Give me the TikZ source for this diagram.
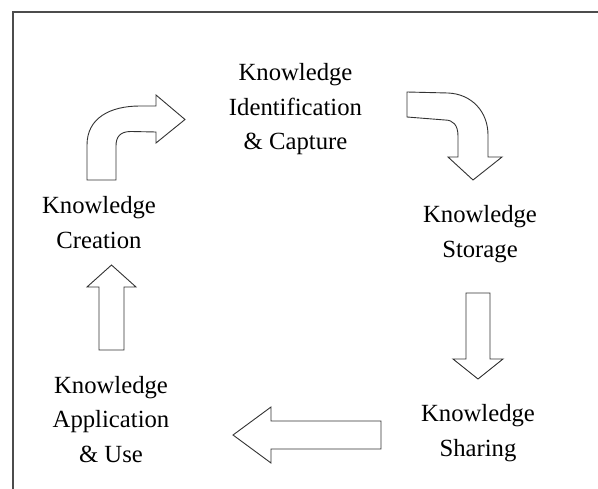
\documentclass[tikz,border=0pt]{standalone}
\usepackage{fontspec}
\setmainfont{Liberation Serif}
\begin{document}
\begin{tikzpicture}[x=1bp,y=-1bp,
  framestyle/.style={draw=black!70,line width=1.1bp},
  blockarrow/.style={draw=black!80,line width=0.9bp,fill=white,line join=miter},
  label/.style={anchor=base,align=center,inner sep=0pt,font=\fontsize{24.7bp}{34.5bp}\selectfont}]
\useasboundingbox (0,0) rectangle (598,489);
\draw[framestyle] (13,489) -- (13,12) -- (598,12);

\node[label] (capture) at (295.5,150) {Knowledge\\Identification\\\& Capture};
\node[label] (storage) at (480,257) {Knowledge\\Storage};
\node[label] (sharing) at (478,456) {Knowledge\\Sharing};
\node[label] (use) at (111,462) {Knowledge\\Application\\\& Use};
\node[label] (creation) at (99,248) {Knowledge\\Creation};

% curved arrow creation -> capture
\draw[blockarrow] (87,180) -- (87,145) .. controls (87,118) and (110,106) .. (140,106)
  -- (156,106) -- (156,95) -- (185,119.5) -- (156,143) -- (156,132) -- (131,131.5)
  .. controls (120,131.5) and (116,137) .. (116,146) -- (116,180) -- cycle;
% curved arrow capture -> storage
\draw[blockarrow] (407,92) -- (448,93) .. controls (472,94) and (488,112) .. (488,135)
  -- (488,157) -- (502,157) -- (473,180) -- (448,157) -- (458,157) -- (458,136)
  .. controls (458,125) and (453,120) .. (445,120) -- (407,117) -- cycle;
% storage -> sharing
\draw[blockarrow] (466,293) -- (490,293) -- (490,359) -- (503,359) -- (478,379)
  -- (453,359) -- (466,359) -- cycle;
% sharing -> use
\draw[blockarrow] (381,421) -- (381,449) -- (271,449) -- (271,463) -- (233,435)
  -- (271,407) -- (271,421) -- cycle;
% use -> creation
\draw[blockarrow] (99,350) -- (124,350) -- (124,287) -- (136,287) -- (111.5,265)
  -- (87,287) -- (99,287) -- cycle;
\end{tikzpicture}
\end{document}
